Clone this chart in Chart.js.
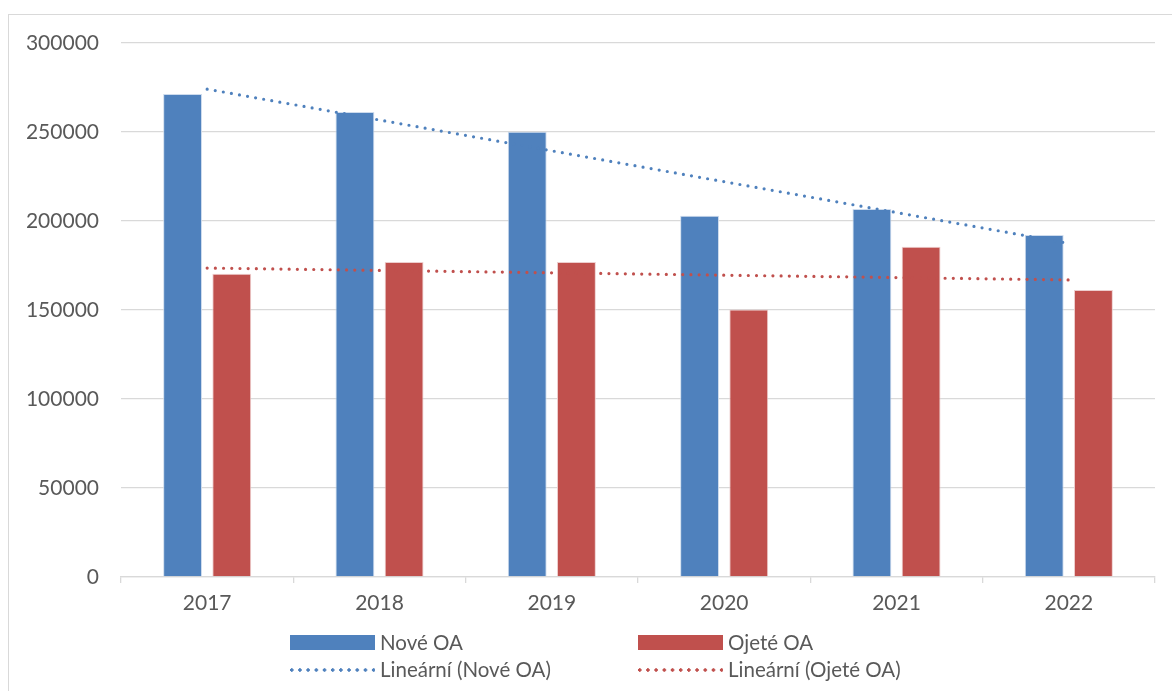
<!DOCTYPE html>
<html>
<head>
<meta charset="utf-8">
<script src="https://cdn.jsdelivr.net/npm/chart.js@4"></script>
<style>
  html, body { margin:0; padding:0; background:#fff; }
  #wrap { position:relative; width:1172px; height:691px; overflow:hidden; }
  #frame { position:absolute; left:8px; top:14px; width:1200px; height:720px; border:1px solid #d9d9d9; box-sizing:border-box; }
  canvas { position:absolute; left:0; top:0; }
  .leg { position:absolute; font-family: Lato, "Open Sans", sans-serif; font-size:20.5px; color:#595959; line-height:24px; white-space:nowrap; }
  .sw { position:absolute; width:85px; height:15px; }
  .dot { position:absolute; width:85px; height:4px; }
</style>
</head>
<body>
<div id="wrap">
  <div id="frame"></div>
  <canvas id="c" width="1172" height="691"></canvas>
  <div id="legend"></div>
</div>
<script>
const years = ['2017','2018','2019','2020','2021','2022'];
const noveOA = [271300, 261200, 250200, 203000, 206700, 192100];
const ojeteOA = [170400, 177000, 176900, 150300, 185600, 161200];
const yTicks = [0, 50000, 100000, 150000, 200000, 250000, 300000];
const seriesNames = ['Nové OA', 'Ojeté OA', 'Lineární (Nové OA)', 'Lineární (Ojeté OA)'];

const blue = '#4F81BD';
const red = '#C0504D';

// Linear (least-squares) trendline of a series, as Excel does
function linearTrend(vals) {
  const n = vals.length;
  const xm = (n - 1) / 2;
  const ym = vals.reduce((a, b) => a + b, 0) / n;
  let sxy = 0, sxx = 0;
  vals.forEach((v, i) => { sxy += (i - xm) * (v - ym); sxx += (i - xm) * (i - xm); });
  const b = sxy / sxx;
  return vals.map((v, i) => ym + b * (i - xm));
}

const trendNove = linearTrend(noveOA);
const trendOjete = linearTrend(ojeteOA);

const FONT = { family: 'Lato, "Open Sans", sans-serif', size: 21 };

new Chart(document.getElementById('c'), {
  type: 'bar',
  data: {
    labels: years,
    datasets: [
      { type:'line', label: seriesNames[2], data: trendNove, borderColor: blue, borderWidth: 3.2,
        borderDash: [0, 8.2], borderCapStyle: 'round', pointRadius: 0, fill: false, tension: 0, order: 0 },
      { type:'line', label: seriesNames[3], data: trendOjete, borderColor: red, borderWidth: 3.2,
        borderDash: [0, 8.2], borderCapStyle: 'round', pointRadius: 0, fill: false, tension: 0, order: 0 },
      { label: seriesNames[0], data: noveOA, backgroundColor: blue, borderColor: 'rgba(200,215,235,0.9)', borderWidth: 1,
        categoryPercentage: 0.571, barPercentage: 0.79, order: 1 },
      { label: seriesNames[1], data: ojeteOA, backgroundColor: red, borderColor: 'rgba(235,200,200,0.9)', borderWidth: 1,
        categoryPercentage: 0.571, barPercentage: 0.79, order: 1 }
    ]
  },
  options: {
    responsive: false,
    animation: false,
    events: [],
    layout: { padding: { top: 43, right: 17, left: 0, bottom: 0 } },
    plugins: { legend: { display: false }, tooltip: { enabled: false }, title: { display: false } },
    scales: {
      x: {
        offset: true,
        grid: { display: true, drawOnChartArea: false, drawTicks: true, tickLength: 6, color: '#d9d9d9', lineWidth: 1.3, offset: true },
        border: { display: true, color: '#d9d9d9', width: 1.3 },
        ticks: { color: '#595959', font: FONT, padding: 8, maxRotation: 0 },
        afterFit: (s) => { s.height = 114; }
      },
      y: {
        min: 0, max: 300000,
        afterBuildTicks: (s) => { s.ticks = yTicks.map(v => ({ value: v })); },
        grid: { color: '#d9d9d9', lineWidth: 1.3, drawTicks: false },
        border: { display: false },
        ticks: { color: '#595959', font: FONT, padding: 22, callback: (v) => String(v) },
        afterFit: (s) => { s.width = 121; }
      }
    }
  }
});

// Legend (HTML), two columns x two rows
const legend = document.getElementById('legend');
const items = [
  { name: seriesNames[0], kind: 'bar', color: blue, x: 290, y: 643 },
  { name: seriesNames[1], kind: 'bar', color: red, x: 638, y: 643 },
  { name: seriesNames[2], kind: 'dot', color: blue, x: 290, y: 670 },
  { name: seriesNames[3], kind: 'dot', color: red, x: 638, y: 670 }
];
items.forEach(it => {
  const m = document.createElement('div');
  if (it.kind === 'bar') {
    m.className = 'sw';
    m.style.left = it.x + 'px'; m.style.top = (it.y - 8) + 'px';
    m.style.background = it.color;
  } else {
    m.className = 'dot';
    m.style.left = it.x + 'px'; m.style.top = (it.y - 2) + 'px';
    m.style.background = `radial-gradient(circle at 1.7px 2px, ${it.color} 1.5px, transparent 1.9px) 0 0 / 8.2px 4px repeat-x`;
  }
  legend.appendChild(m);
  const t = document.createElement('div');
  t.className = 'leg';
  t.textContent = it.name;
  t.style.left = (it.x + 90) + 'px';
  t.style.top = (it.y - 13) + 'px';
  legend.appendChild(t);
});
</script>
</body>
</html>
